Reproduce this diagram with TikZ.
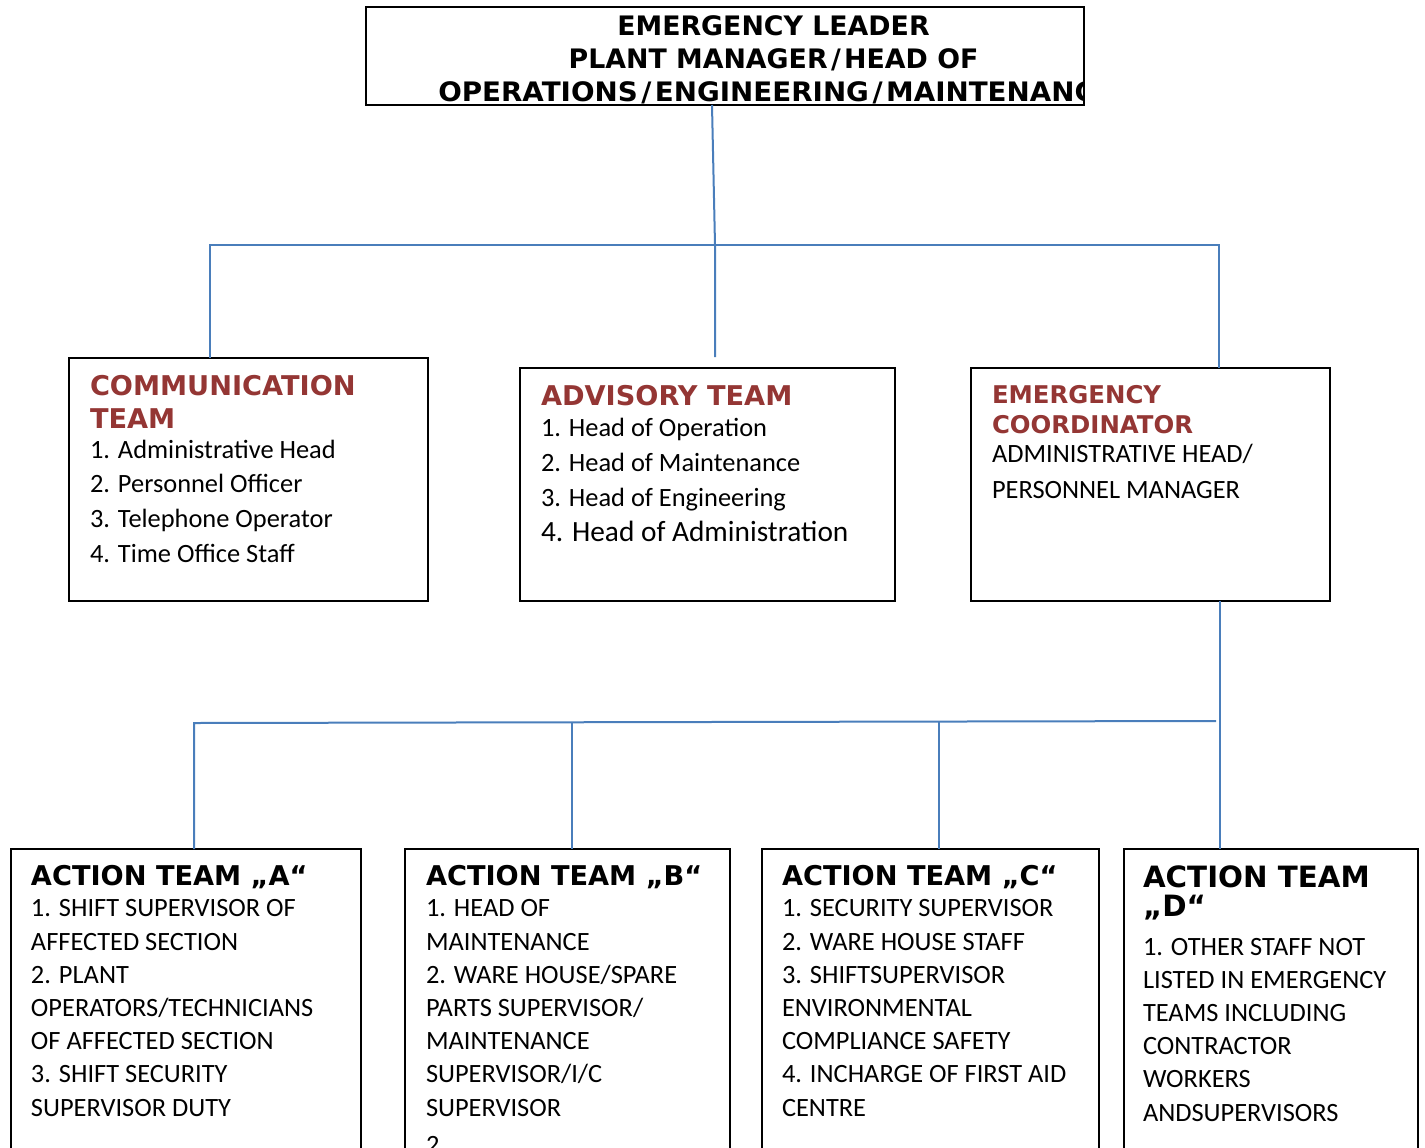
\documentclass[tikz,border=0pt]{standalone}
\usepackage{fontspec}
\setmainfont{Carlito}
\newfontfamily\headfont{DejaVu Sans}
\definecolor{headred}{HTML}{943634}
\definecolor{linkblue}{HTML}{4A7EBB}
% a wider slash for the title lines
\newcommand\wideslash{\hbox to 0.62em{\hss/\hss}}

\begin{document}
\begin{tikzpicture}[x=0.75pt,y=-0.75pt,
  box/.style={draw=black, line width=0.9pt, inner sep=0pt, outer sep=0pt, anchor=north west},
  conn/.style={draw=linkblue, line width=1.5pt},
  headtxt/.style={anchor=base west, inner sep=0pt, outer sep=0pt, align=left, text=headred,
    font=\headfont\bfseries\fontsize{20.4}{24.75}\selectfont},
  bodytxt/.style={anchor=base west, inner sep=0pt, outer sep=0pt, align=left,
    font=\fontsize{19.8}{24.9}\selectfont},
]
\useasboundingbox (0,0) rectangle (1425,1147);
\clip (0,0) rectangle (1425,1147);

% ---------- leader ----------
% (multi-line text nodes are placed by the baseline of their last line)
\node[box, line width=1.9pt, minimum width=538.5pt, minimum height=73.5pt] (leader) at (366,7) {};
\begin{scope}
  \clip (leader.north west) rectangle (leader.south east);
  \node[anchor=base, inner sep=0pt, align=center,
        font=\headfont\bfseries\fontsize{20.1}{24.75}\selectfont] (leaderT) at (773.5,68)
        {EMERGENCY LEADER\\PLANT MANAGER\wideslash HEAD OF};
  \node[anchor=base west, inner sep=0pt,
        font=\headfont\bfseries\fontsize{20.1}{24.75}\selectfont] (leaderT3) at (438,101)
        {\scalebox{1.035}[1]{OPERATIONS\wideslash ENGINEERING\wideslash MAINTENANCE}};
\end{scope}
\node[box, line width=1.9pt, minimum width=538.5pt, minimum height=73.5pt] at (366,7) {};

% ---------- middle row ----------
\node[box, minimum width=269.25pt, minimum height=182.25pt] (comm) at (69,358) {};
\node[headtxt] (commH) at (90,428) {COMMUNICATION\\TEAM};
\node[bodytxt, font=\fontsize{19.8}{26}\selectfont] (commB) at (90,562)
  {1. Administrative Head\\2. Personnel Officer\\3. Telephone Operator\\4. Time Office Staff};

\node[box, minimum width=281.25pt, minimum height=174.75pt] (adv) at (520,368) {};
\node[headtxt] (advH) at (541,405) {ADVISORY TEAM};
\node[bodytxt, font=\fontsize{19.8}{26.25}\selectfont] (advB) at (541,506)
  {1. Head of Operation\\2. Head of Maintenance\\3. Head of Engineering};
\node[bodytxt, font=\fontsize{22}{26.25}\selectfont] (advB4) at (541,541)
  {4. Head of Administration};

\node[box, minimum width=269.25pt, minimum height=174.75pt] (ec) at (971,368) {};
\node[headtxt, font=\headfont\bfseries\fontsize{18.3}{22.5}\selectfont] (ecH) at (992,433)
  {EMERGENCY\\COORDINATOR};
\node[bodytxt, font=\fontsize{19.8}{27}\selectfont] (ecB) at (992,498)
  {ADMINISTRATIVE HEAD/\\PERSONNEL MANAGER};

% ---------- action teams ----------
\node[box, minimum width=262.5pt, minimum height=240pt] (teamA) at (11,849) {};
\node[headtxt, text=black] (teamAH) at (31,885) {ACTION TEAM „A“};
\node[bodytxt] (teamAB) at (31,1116)
  {1. SHIFT SUPERVISOR OF\\AFFECTED SECTION\\2. PLANT\\OPERATORS/TECHNICIANS\\OF AFFECTED SECTION\\3. SHIFT SECURITY\\SUPERVISOR DUTY};

\node[box, minimum width=243.75pt, minimum height=240pt] (teamB) at (405,849) {};
\node[headtxt, text=black] (teamBH) at (426,885) {ACTION TEAM „B“};
\node[bodytxt] (teamBB) at (426,1116)
  {1. HEAD OF\\MAINTENANCE\\2. WARE HOUSE/SPARE\\PARTS SUPERVISOR/\\MAINTENANCE\\SUPERVISOR/I/C\\SUPERVISOR};
\node[bodytxt] (teamBB2) at (426,1153) {2};

\node[box, minimum width=252.75pt, minimum height=240pt] (teamC) at (762,849) {};
\node[headtxt, text=black] (teamCH) at (782,885) {ACTION TEAM „C“};
\node[bodytxt] (teamCB) at (782,1116)
  {1. SECURITY SUPERVISOR\\2. WARE HOUSE STAFF\\3. SHIFTSUPERVISOR\\ENVIRONMENTAL\\COMPLIANCE SAFETY\\4. INCHARGE OF FIRST AID\\CENTRE};

\node[box, minimum width=220.5pt, minimum height=240pt] (teamD) at (1124,849) {};
\node[headtxt, text=black, font=\headfont\bfseries\fontsize{22}{21.75}\selectfont] (teamDH) at (1143,916)
  {ACTION TEAM\\„D“};
\node[bodytxt] (teamDB) at (1143,1121)
  {1. OTHER STAFF NOT\\LISTED IN EMERGENCY\\TEAMS INCLUDING\\CONTRACTOR\\WORKERS\\ANDSUPERVISORS};

% ---------- connectors, upper level ----------
\coordinate (leadOut) at (712,0);
\coordinate (busL) at (210,245);
\coordinate (busM) at (715,245);
\coordinate (busR) at (1219,245);
\coordinate (midEnd) at (715,357);
\draw[conn] (leader.south -| leadOut) -- (busM) -- (midEnd);
\draw[conn] (comm.north -| busL) -- (busL) -- (busR) -- (ec.north -| busR);

% ---------- connectors, lower level ----------
\coordinate (ecOut) at (1219.5,0);
\coordinate (bus2R) at (1216,721);
\coordinate (bus2L) at (194,723);
\coordinate (dropB) at (572,722);
\coordinate (dropC) at (939,722);
\draw[conn] (ec.south -| ecOut) -- (teamD.north -| ecOut);
\draw[conn] (bus2R) -- (bus2L) -- (teamA.north -| bus2L);
\draw[conn] (dropB) -- (teamB.north -| dropB);
\draw[conn] (dropC) -- (teamC.north -| dropC);
\end{tikzpicture}
\end{document}
